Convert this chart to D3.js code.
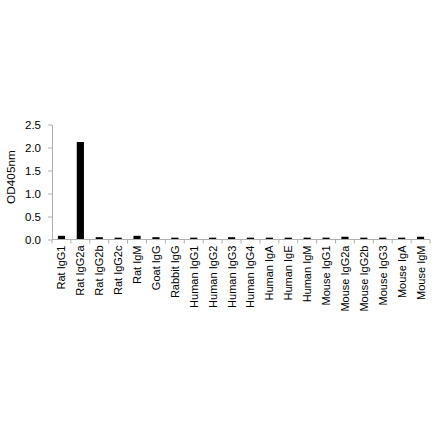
<!DOCTYPE html>
<html>
<head>
<meta charset="utf-8">
<script src="https://cdn.jsdelivr.net/npm/d3@7"></script>
<style>
  body { margin: 0; background: #fff; }
  svg text { font-family: "Liberation Sans", Arial, sans-serif; fill: #000; }
</style>
</head>
<body>
<svg id="chart" width="440" height="441"></svg>
<script>
// categories and values
const categories = ["Rat IgG1", "Rat IgG2a", "Rat IgG2b", "Rat IgG2c", "Rat IgM", "Goat IgG", "Rabbit IgG",
  "Human IgG1", "Human IgG2", "Human IgG3", "Human IgG4", "Human IgA", "Human IgE", "Human IgM",
  "Mouse IgG1", "Mouse IgG2a", "Mouse IgG2b", "Mouse IgG3", "Mouse IgA", "Mouse IgM"];
const od405 = [0.08, 2.12, 0.05, 0.04, 0.08, 0.05, 0.04, 0.04, 0.04, 0.05, 0.04, 0.04, 0.04, 0.04,
  0.04, 0.06, 0.04, 0.04, 0.04, 0.06];
const yTicks = [0, 0.5, 1.0, 1.5, 2.0, 2.5];

const svg = d3.select("#chart");
const plotLeft = 52, plotRight = 430, plotTop = 124.5, plotBottom = 239.5;

const x = d3.scaleBand().domain(categories).range([plotLeft, plotRight]).paddingInner(0.62).paddingOuter(0.31);
const y = d3.scaleLinear().domain([0, 2.5]).range([plotBottom, plotTop]);

// bars
svg.append("g")
  .selectAll("rect")
  .data(categories)
  .join("rect")
  .attr("x", d => x(d))
  .attr("width", x.bandwidth())
  .attr("y", (d, i) => y(od405[i]))
  .attr("height", (d, i) => plotBottom - y(od405[i]))
  .attr("fill", "#000");

// Y axis
const yAxis = svg.append("g")
  .attr("transform", `translate(${plotLeft},0)`)
  .call(d3.axisLeft(y).tickValues(yTicks).tickFormat(d3.format(".1f")).tickSize(4).tickSizeOuter(0));
yAxis.select(".domain").attr("stroke", "#b0b0b0");
yAxis.selectAll(".tick line").attr("stroke", "#b0b0b0");
yAxis.selectAll("text").attr("font-size", "11.5px").attr("x", -11);

// X axis: ticks between categories
const step = x.step();
const xAxis = svg.append("g");
xAxis.append("line")
  .attr("x1", plotLeft).attr("x2", plotRight)
  .attr("y1", plotBottom).attr("y2", plotBottom)
  .attr("stroke", "#b0b0b0");
xAxis.selectAll("line.tk")
  .data(d3.range(categories.length + 1))
  .join("line")
  .attr("class", "tk")
  .attr("x1", i => plotLeft + i * step).attr("x2", i => plotLeft + i * step)
  .attr("y1", plotBottom).attr("y2", plotBottom + 4)
  .attr("stroke", "#b0b0b0");

xAxis.selectAll("text")
  .data(categories)
  .join("text")
  .attr("transform", d => `translate(${x(d) + x.bandwidth() / 2 + 4},${plotBottom + 6}) rotate(-90)`)
  .attr("text-anchor", "end")
  .attr("font-size", "11px")
  .text(d => d);

// Y axis title
svg.append("text")
  .attr("transform", "translate(15,177) rotate(-90)")
  .attr("text-anchor", "middle")
  .attr("font-size", "11.8px")
  .text("OD405nm");
</script>
</body>
</html>
